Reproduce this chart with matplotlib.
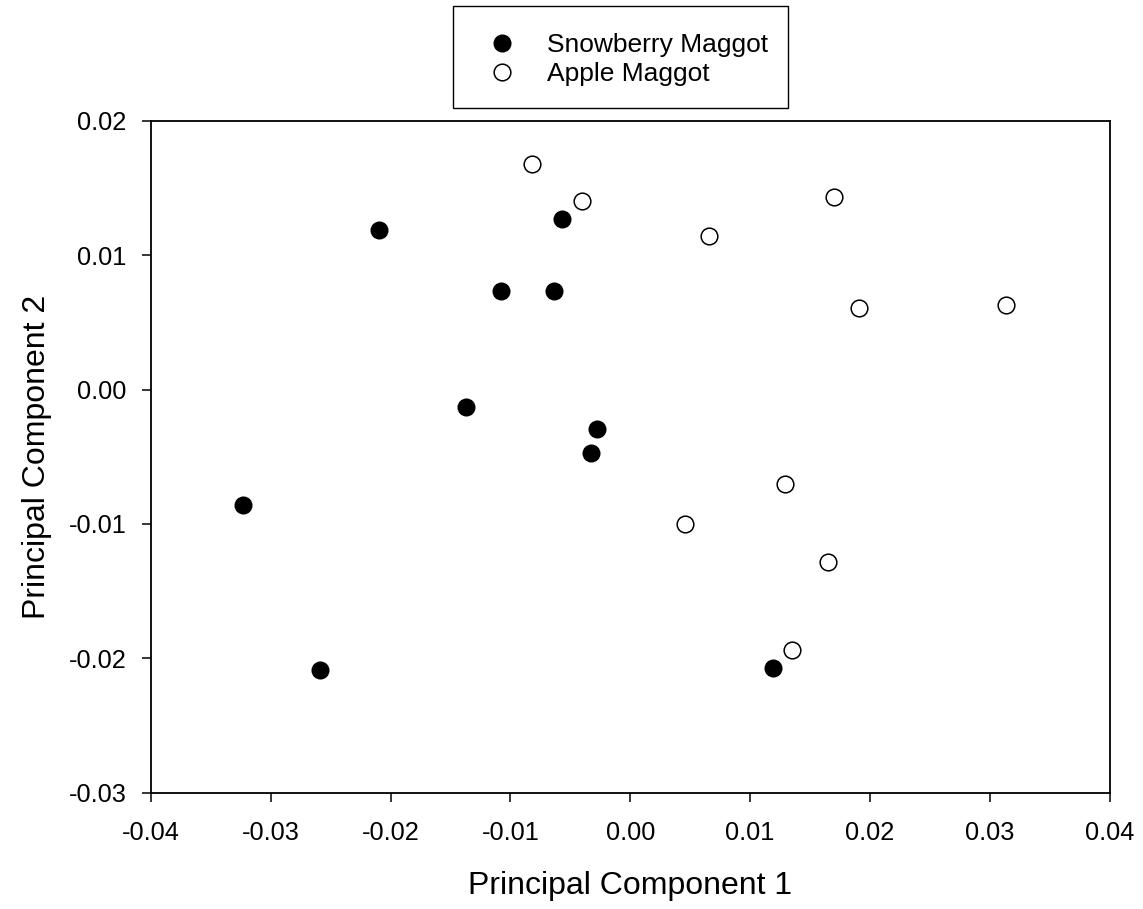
import matplotlib
matplotlib.use("Agg")
import matplotlib.pyplot as plt
from matplotlib.patches import Rectangle

plt.rcParams['font.family'] = ['Liberation Sans', 'DejaVu Sans']

# PCA scores
snow_pc1 = [-0.0210, -0.0057, -0.0108, -0.0064, -0.0137, -0.0028, -0.0033,
            -0.0323, -0.0259, 0.0119]
snow_pc2 = [0.0119, 0.0127, 0.0073, 0.0073, -0.0013, -0.0029, -0.0047,
            -0.0086, -0.0209, -0.0207]

apple_pc1 = [-0.0082, -0.0040, 0.0066, 0.0170, 0.0191, 0.0314, 0.0129,
             0.0046, 0.0165, 0.0135]
apple_pc2 = [0.0168, 0.0140, 0.0114, 0.0143, 0.0061, 0.0063, -0.0070,
             -0.0100, -0.0128, -0.0194]

xticks = [-0.04, -0.03, -0.02, -0.01, 0.00, 0.01, 0.02, 0.03, 0.04]
yticks = [-0.03, -0.02, -0.01, 0.00, 0.01, 0.02]

fig = plt.figure(figsize=(11.43, 9.09), dpi=100)
ax = fig.add_axes([0.1321, 0.1279, 0.8386, 0.7393])

ax.plot(snow_pc1, snow_pc2, 'o', color='black', markersize=13,
        markeredgewidth=0, label='Snowberry Maggot')
ax.plot(apple_pc1, apple_pc2, 'o', markerfacecolor='white',
        markeredgecolor='black', markersize=12, markeredgewidth=1.1,
        label='Apple Maggot')

ax.set_xlim(-0.04, 0.04)
ax.set_ylim(-0.03, 0.02)
ax.set_xticks(xticks)
ax.set_yticks(yticks)
ax.set_xticklabels(['%.2f' % v for v in xticks])
ax.set_yticklabels(['%.2f' % v for v in yticks])
ax.tick_params(direction='out', length=6.8, width=1.1, labelsize=18.3)
ax.tick_params(axis='x', pad=13.5)
ax.tick_params(axis='y', pad=10.8)
for s in ax.spines.values():
    s.set_linewidth(1.3)

ax.set_xlabel('Principal Component 1', fontsize=23, labelpad=19)
ax.set_ylabel('Principal Component 2', fontsize=23, labelpad=12)

# legend box drawn separately so its padding can be taller than wide
fig.patches.append(Rectangle((0.3961, 0.8812), 0.2933, 0.1122,
                             transform=fig.transFigure, fill=False,
                             edgecolor='black', linewidth=1.0))
leg = fig.legend(loc='upper center', bbox_to_anchor=(0.5428, 0.9868),
                 fontsize=19, frameon=False, borderpad=0.8,
                 handlelength=2.2, handletextpad=0.6, labelspacing=0.2,
                 borderaxespad=0)

fig.savefig('out.png', dpi=100)
